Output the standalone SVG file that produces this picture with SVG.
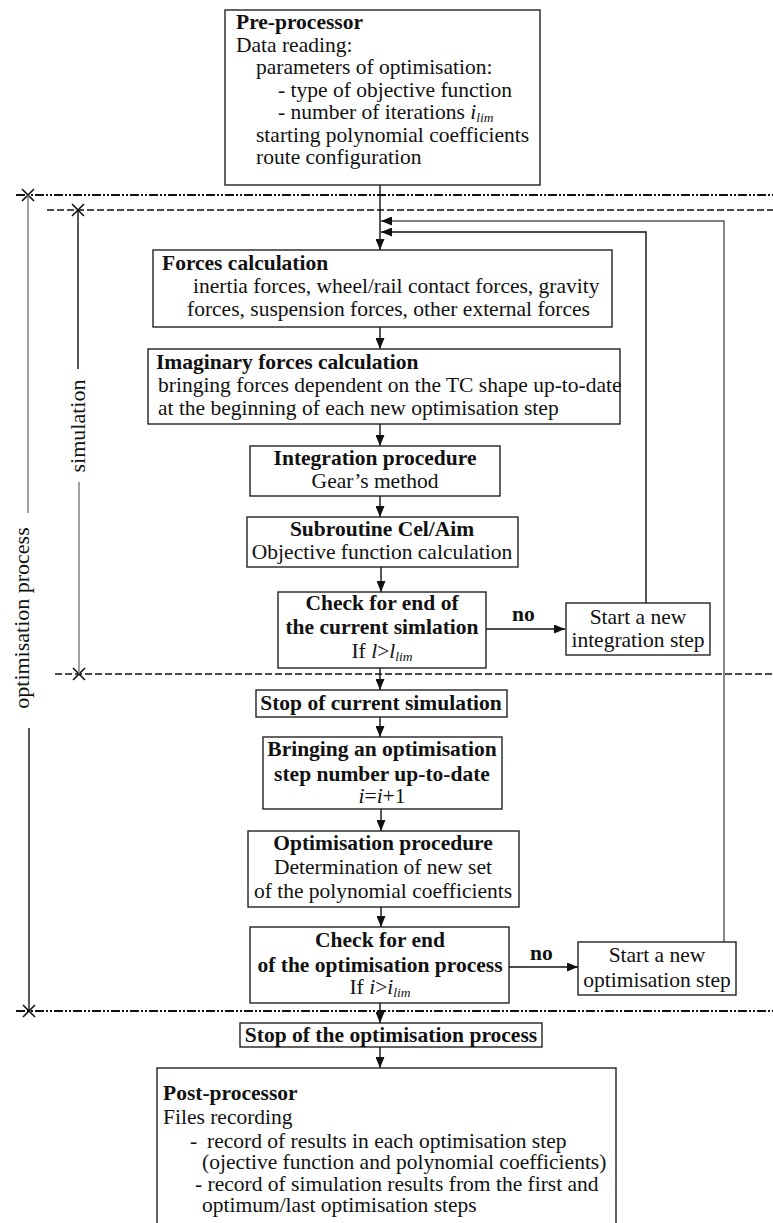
<svg xmlns="http://www.w3.org/2000/svg" width="773" height="1223" viewBox="0 0 773 1223">
<style>
text{font-family:"Liberation Serif","Times New Roman",serif;font-size:21.5px;fill:#111}
.b{font-weight:bold}
.c{text-anchor:middle}
.i{font-style:italic}
.sub{font-style:italic;font-size:13.5px}
.box{fill:#fff;stroke:#222;stroke-width:1.4}
.ln{fill:none;stroke:#111;stroke-width:1.4}
.gl{fill:none;stroke:#777;stroke-width:1.4}
.dd{fill:none;stroke:#111;stroke-width:1.8;stroke-dasharray:9 2 2 2 2 2}
.ds{fill:none;stroke:#111;stroke-width:1.6;stroke-dasharray:7 3}
.x{fill:none;stroke:#111;stroke-width:1.6}
.lab{font-size:22px}
</style>
<defs>
<marker id="ah" markerWidth="11" markerHeight="9" refX="11" refY="4.5" orient="auto" markerUnits="userSpaceOnUse"><path d="M0,0 L11,4.5 L0,9 z" fill="#111"/></marker>
</defs>
<rect width="773" height="1223" fill="#fff"/>

<g id="scopes">
<line class="dd" x1="16" y1="195" x2="773" y2="195"/>
<line class="ds" x1="47" y1="210" x2="773" y2="210"/>
<line class="ds" x1="55" y1="674" x2="773" y2="674"/>
<line class="dd" x1="16" y1="1011" x2="773" y2="1011"/>
<path class="x" d="M22,189 L34,201 M34,189 L22,201"/>
<path class="x" d="M72,204 L84,216 M84,204 L72,216"/>
<path class="x" d="M73,668 L85,680 M85,668 L73,680"/>
<path class="x" d="M23,1005 L35,1017 M35,1005 L23,1017"/>
<line class="gl" x1="28" y1="195" x2="28" y2="513"/>
<line class="ln" x1="29" y1="728" x2="29" y2="1011"/>
<line class="ln" x1="78" y1="210" x2="78" y2="369"/>
<line class="gl" x1="79" y1="482" x2="79" y2="674"/>
<text class="lab c" transform="translate(85,426) rotate(-90)">simulation</text>
<text class="lab c" transform="translate(29,618) rotate(-90)">optimisation process</text>
</g>

<g id="connectors">
<line class="ln" x1="380" y1="185" x2="380" y2="250" marker-end="url(#ah)"/>
<line class="ln" x1="380" y1="327" x2="380" y2="349" marker-end="url(#ah)"/>
<line class="ln" x1="380" y1="424" x2="380" y2="446" marker-end="url(#ah)"/>
<line class="ln" x1="380" y1="496" x2="380" y2="517" marker-end="url(#ah)"/>
<line class="ln" x1="381" y1="567" x2="381" y2="592" marker-end="url(#ah)"/>
<line class="ln" x1="380" y1="668" x2="380" y2="690" marker-end="url(#ah)"/>
<line class="ln" x1="380" y1="717" x2="380" y2="737" marker-end="url(#ah)"/>
<line class="ln" x1="381" y1="809" x2="381" y2="831" marker-end="url(#ah)"/>
<line class="ln" x1="381" y1="907" x2="381" y2="927" marker-end="url(#ah)"/>
<line class="ln" x1="380" y1="1003" x2="380" y2="1023" marker-end="url(#ah)"/>
<line class="ln" x1="380" y1="1047" x2="380" y2="1068" marker-end="url(#ah)"/>
<line class="ln" x1="486" y1="629" x2="565" y2="629" marker-end="url(#ah)"/>
<line class="ln" x1="509" y1="967" x2="578" y2="967" marker-end="url(#ah)"/>
<polyline class="ln" points="646,603 646,232 381,232" marker-end="url(#ah)"/>
<polyline class="ln" style="stroke:#555" points="724,942 724,221 381,221" marker-end="url(#ah)"/>
<text class="b" x="512" y="621">no</text>
<text class="b" x="530" y="960">no</text>
</g>

<g id="pre">
<rect class="box" x="225" y="10" width="315" height="175"/>
<text class="b" x="236" y="29">Pre-processor</text>
<text x="236" y="52">Data reading:</text>
<text x="256" y="74">parameters of optimisation:</text>
<text x="278" y="97">- type of objective function</text>
<text x="278" y="119">- number of iterations <tspan class="i">i</tspan><tspan class="sub" dy="3">lim</tspan></text>
<text x="256" y="142">starting polynomial coefficients</text>
<text x="256" y="164">route configuration</text>
</g>

<g id="forces">
<rect class="box" x="153" y="250" width="459" height="77"/>
<text class="b" x="162" y="270">Forces calculation</text>
<text x="193" y="293">inertia forces, wheel/rail contact forces, gravity</text>
<text x="187" y="316">forces,  suspension forces, other external forces</text>
</g>

<g id="imaginary">
<rect class="box" x="148" y="349" width="472" height="75"/>
<text class="b" x="156" y="369">Imaginary forces calculation</text>
<text x="158" y="392">bringing forces dependent on the TC shape up-to-date</text>
<text x="158" y="415">at the beginning of each new optimisation step</text>
</g>

<g id="integration">
<rect class="box" x="250" y="446" width="250" height="50"/>
<text class="b c" x="375" y="465">Integration procedure</text>
<text class="c" x="375" y="488">Gear’s method</text>
</g>

<g id="subroutine">
<rect class="box" x="247" y="517" width="271" height="50"/>
<text class="b c" x="382" y="536">Subroutine Cel/Aim</text>
<text class="c" x="382" y="559">Objective function calculation</text>
</g>

<g id="checksim">
<rect class="box" x="278" y="592" width="208" height="76"/>
<text class="b c" x="382" y="610">Check for end of</text>
<text class="b c" x="382" y="634">the current simlation</text>
<text class="c" x="382" y="658">If <tspan class="i">l</tspan>&gt;<tspan class="i">l</tspan><tspan class="sub" dy="3">lim</tspan></text>
</g>

<g id="startint">
<rect class="box" x="566" y="603" width="144" height="52"/>
<text class="c" x="638" y="624">Start a new</text>
<text class="c" x="638" y="647">integration step</text>
</g>

<g id="stopsim">
<rect class="box" x="256" y="690" width="251" height="27"/>
<text class="b c" x="381" y="710">Stop of current simulation</text>
</g>

<g id="bringing">
<rect class="box" x="263" y="737" width="239" height="72"/>
<text class="b c" x="382" y="756">Bringing an optimisation</text>
<text class="b c" x="382" y="781">step number up-to-date</text>
<text class="c" x="382" y="803"><tspan class="i">i</tspan>=<tspan class="i">i</tspan>+1</text>
</g>

<g id="optproc">
<rect class="box" x="248" y="831" width="271" height="76"/>
<text class="b c" x="383" y="850">Optimisation procedure</text>
<text class="c" x="383" y="874">Determination of new set</text>
<text class="c" x="383" y="898">of the polynomial coefficients</text>
</g>

<g id="checkopt">
<rect class="box" x="250" y="927" width="259" height="76"/>
<text class="b c" x="380" y="947">Check for end</text>
<text class="b c" x="380" y="972">of the optimisation process</text>
<text class="c" x="380" y="994">If <tspan class="i">i</tspan>&gt;<tspan class="i">i</tspan><tspan class="sub" dy="3">lim</tspan></text>
</g>

<g id="startopt">
<rect class="box" x="578" y="942" width="158" height="53"/>
<text class="c" x="657" y="962">Start a new</text>
<text class="c" x="657" y="987">optimisation step</text>
</g>

<g id="stopopt">
<rect class="box" x="240" y="1023" width="302" height="24"/>
<text class="b c" x="391" y="1042">Stop of the optimisation process</text>
</g>

<g id="post">
<rect class="box" x="157" y="1068" width="459" height="170"/>
<text class="b" x="163" y="1100">Post-processor</text>
<text x="163" y="1124">Files recording</text>
<text x="190" y="1148">-<tspan x="207">record of results in each optimisation step</tspan></text>
<text x="202" y="1169">(ojective function and polynomial coefficients)</text>
<text x="195" y="1191">- record of simulation results from the first and</text>
<text x="202" y="1212">optimum/last optimisation steps</text>
</g>
</svg>
